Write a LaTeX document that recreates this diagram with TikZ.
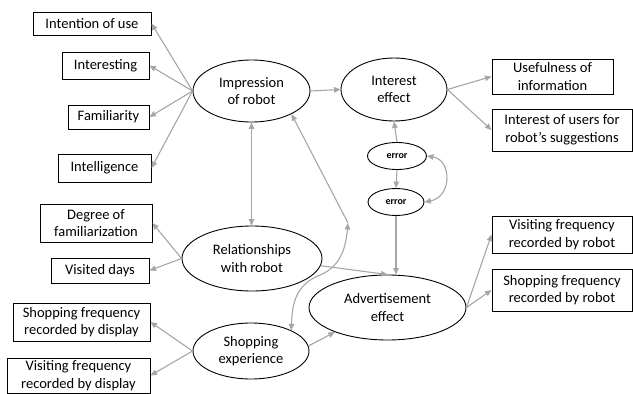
\documentclass[tikz,border=0pt]{standalone}
\usepackage{fontspec}
\setmainfont{Carlito}
\usetikzlibrary{shapes.geometric,arrows.meta}
\definecolor{arrgray}{RGB}{166,166,166}
\tikzset{
  lat/.style={ellipse,draw=black,line width=0.9pt,inner sep=0pt,align=center,font=\fontsize{14.5}{17.5}\selectfont},
  errnode/.style={ellipse,draw=black,line width=0.9pt,inner sep=0pt,align=center,font=\fontsize{10}{11}\selectfont\bfseries},
  obs/.style={rectangle,draw=black,line width=0.9pt,inner sep=0pt,align=center,font=\fontsize{14.5}{17.5}\selectfont},
  arr/.style={draw=arrgray,line width=1.1pt,-{Triangle[length=6.5pt,width=5.5pt]}},
  barr/.style={draw=arrgray,line width=1.1pt,{Triangle[length=6.5pt,width=5.5pt]}-{Triangle[length=6.5pt,width=5.5pt]}}
}
\begin{document}
\begin{tikzpicture}[x=1pt,y=-1pt]
\useasboundingbox (0,0) rectangle (633,394);
% latent ellipses
\node[lat,minimum width=117,minimum height=62] (imp) at (251.5,91) {Impression\\of robot};
\node[lat,minimum width=106,minimum height=63] (int) at (394,89.5) {Interest\\effect};
\node[lat,minimum width=140,minimum height=65] (rel) at (252,258.5) {Relationships\\with robot};
\node[lat,minimum width=116,minimum height=56] (shop) at (251,351) {Shopping\\experience};
\node[lat,minimum width=157,minimum height=65] (adv) at (387.5,307.5) {Advertisement\\effect};
\node[errnode,minimum width=59,minimum height=27] (e1) at (397,156) {error};
\node[errnode,minimum width=56,minimum height=27] (e2) at (396,202) {error};
% observed boxes
\node[obs,minimum width=118,minimum height=23] (intent) at (92,23.5) {Intention of use};
\node[obs,minimum width=87,minimum height=27] (inter) at (105.5,65.5) {Interesting};
\node[obs,minimum width=81,minimum height=24] (famil) at (108.5,117) {Familiarity};
\node[obs,minimum width=93,minimum height=28] (intel) at (104.5,168) {Intelligence};
\node[obs,minimum width=112,minimum height=38] (degree) at (96,223) {Degree of\\familiarization};
\node[obs,minimum width=98,minimum height=25] (visited) at (100,270.5) {Visited days};
\node[obs,minimum width=137,minimum height=38] (shopdisp) at (81.5,322) {Shopping frequency\\recorded by display};
\node[obs,minimum width=143,minimum height=35] (visitdisp) at (78.5,375.5) {Visiting frequency\\recorded by display};
\node[obs,minimum width=121,minimum height=35] (useful) at (552.5,76.5) {Usefulness of\\information};
\node[obs,minimum width=140,minimum height=42] (iusers) at (562,130) {Interest of users for\\robot’s suggestions};
\node[obs,minimum width=140,minimum height=37] (visitrob) at (562,234.5) {Visiting frequency\\recorded by robot};
\node[obs,minimum width=140,minimum height=42] (shoprob) at (562,290) {Shopping frequency\\recorded by robot};
% connectors
\draw[arr] (imp.west) -- (intent.east);
\draw[arr] (imp.west) -- (inter.east);
\draw[arr] (imp.west) -- (famil.east);
\draw[arr] (imp.west) -- (intel.east);
\draw[arr] (imp.east) -- (int.west);
\draw[arr] (int.east) -- (useful.west);
\draw[arr] (int.east) -- (iusers.west);
\draw[arr] (e1.north) -- (int.south);
\draw[arr] (e1.south) -- (e2.north);
\draw[arr] (e2.south) -- (e2.south |- adv.north);
\draw[barr] (e1.east) .. controls (452,160) and (452,197) .. (e2.east);
\draw[barr] (imp.south) -- (imp.south |- rel.north);
\draw[arr] (rel.west) -- (degree.east);
\draw[arr] (rel.west) -- (visited.east);
\draw[arr] (rel.-6) -- (adv.north);
\draw[arr] (shop.west) -- (shopdisp.east);
\draw[arr] (shop.west) -- (visitdisp.east);
\draw[arr] (shop.5) -- (adv.205);
\draw[arr] (adv.east) -- (visitrob.west);
\draw[arr] (adv.east) -- (shoprob.west);
\coordinate (k) at (348,223);
\draw[arr] (k) -- (imp.-30);
\draw[barr] (k) .. controls (346,245) and (342,266) .. (320,275) .. controls (298,284) and (292,300) .. (shop.27);
\end{tikzpicture}
\end{document}
